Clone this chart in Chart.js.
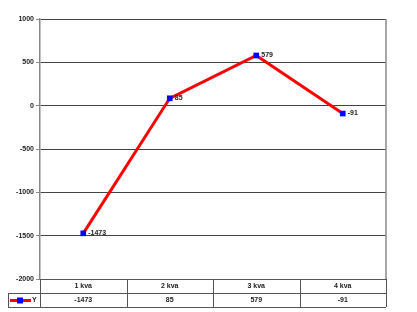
<!DOCTYPE html>
<html><head><meta charset="utf-8">
<script src="https://cdn.jsdelivr.net/npm/chart.js@4/dist/chart.umd.min.js"></script>
<style>html,body{margin:0;padding:0;background:#fff}#wrap{width:417px;height:312px}</style>
</head><body><div id="wrap"><canvas id="c" width="417" height="312"></canvas></div>
<script>
const categories = ['1 kva', '2 kva', '3 kva', '4 kva'];
const seriesName = 'Y';
const values = [-1473, 85, 579, -91];
const yTicks = [1000, 500, 0, -500, -1000, -1500, -2000];

const FONT = 'Liberation Sans, Arial, sans-serif';

const tablePlugin = {
  id: 'tablePlugin',
  afterDraw(chart) {
    const ctx = chart.ctx, a = chart.chartArea, xs = chart.scales.x;
    const rowH = 14;
    const y0 = a.bottom, y1 = y0 + rowH, y2 = y1 + rowH;
    const n = categories.length;
    const colW = (a.right - a.left) / n;
    ctx.save();
    ctx.strokeStyle = '#888'; ctx.lineWidth = 1.5;
    ctx.beginPath(); ctx.moveTo(a.right, a.top); ctx.lineTo(a.right, y0); ctx.stroke();
    ctx.strokeStyle = '#555'; ctx.lineWidth = 1;
    ctx.beginPath();
    ctx.moveTo(a.left, y0 + 0.5); ctx.lineTo(a.right, y0 + 0.5);
    ctx.moveTo(8, y1 + 0.5); ctx.lineTo(a.right, y1 + 0.5);
    ctx.moveTo(8, y2 + 0.5); ctx.lineTo(a.right, y2 + 0.5);
    ctx.moveTo(8.5, y1); ctx.lineTo(8.5, y2);
    for (let i = 0; i <= n; i++) {
      const x = Math.round(a.left + i * colW) + 0.5;
      ctx.moveTo(x, y0); ctx.lineTo(x, y2);
    }
    ctx.stroke();
    ctx.fillStyle = '#222';
    ctx.font = 'bold 7px ' + FONT;
    ctx.textAlign = 'center'; ctx.textBaseline = 'middle';
    categories.forEach((c, i) => {
      const x = xs.getPixelForValue(i);
      ctx.fillText(c, x, y0 + rowH / 2 + 0.5);
      ctx.fillText(String(values[i]), x, y1 + rowH / 2 + 0.5);
    });
    const ly = y1 + rowH / 2 + 0.5;
    ctx.strokeStyle = '#ff0000'; ctx.lineWidth = 3;
    ctx.beginPath(); ctx.moveTo(10, ly); ctx.lineTo(31, ly); ctx.stroke();
    ctx.fillStyle = '#0000ff';
    ctx.fillRect(17, ly - 3, 6, 6);
    ctx.fillStyle = '#222';
    ctx.textAlign = 'left';
    ctx.fillText(seriesName, 32, ly);
    ctx.restore();
  }
};

const labelPlugin = {
  id: 'labelPlugin',
  afterDatasetsDraw(chart) {
    const ctx = chart.ctx;
    const meta = chart.getDatasetMeta(0);
    ctx.save();
    ctx.fillStyle = '#222';
    ctx.font = 'bold 7px ' + FONT;
    ctx.textAlign = 'left'; ctx.textBaseline = 'middle';
    meta.data.forEach((p, i) => {
      ctx.fillText(String(values[i]), p.x + 5, p.y);
    });
    ctx.restore();
  }
};

new Chart(document.getElementById('c'), {
  type: 'line',
  data: {
    labels: categories,
    datasets: [{
      label: seriesName,
      data: values,
      borderColor: '#ff0000',
      borderWidth: 3,
      pointStyle: 'rect',
      pointRadius: 4,
      pointBackgroundColor: '#0000ff',
      pointBorderColor: '#0000ff',
      pointBorderWidth: 0,
      tension: 0
    }]
  },
  options: {
    responsive: false,
    animation: false,
    devicePixelRatio: 1,
    layout: { padding: { left: 0, right: 31, top: 19, bottom: 33 } },
    plugins: { legend: { display: false }, tooltip: { enabled: false } },
    scales: {
      x: {
        offset: true,
        grid: { display: false, drawTicks: false },
        border: { display: false },
        ticks: { display: false },
        afterFit(s) { s.height = 0; }
      },
      y: {
        min: -2000, max: 1000,
        afterBuildTicks(s) { s.ticks = yTicks.map(v => ({ value: v })); },
        afterFit(s) { s.width = 40; },
        grid: { color: '#444', lineWidth: 1, tickLength: 4, tickColor: '#888' },
        border: { color: '#888', width: 1.5 },
        ticks: {
          color: '#222', font: { size: 7, family: FONT, weight: 'bold' }, padding: 2,
          callback: (v) => String(v)
        }
      }
    }
  },
  plugins: [tablePlugin, labelPlugin]
});
</script></body></html>
